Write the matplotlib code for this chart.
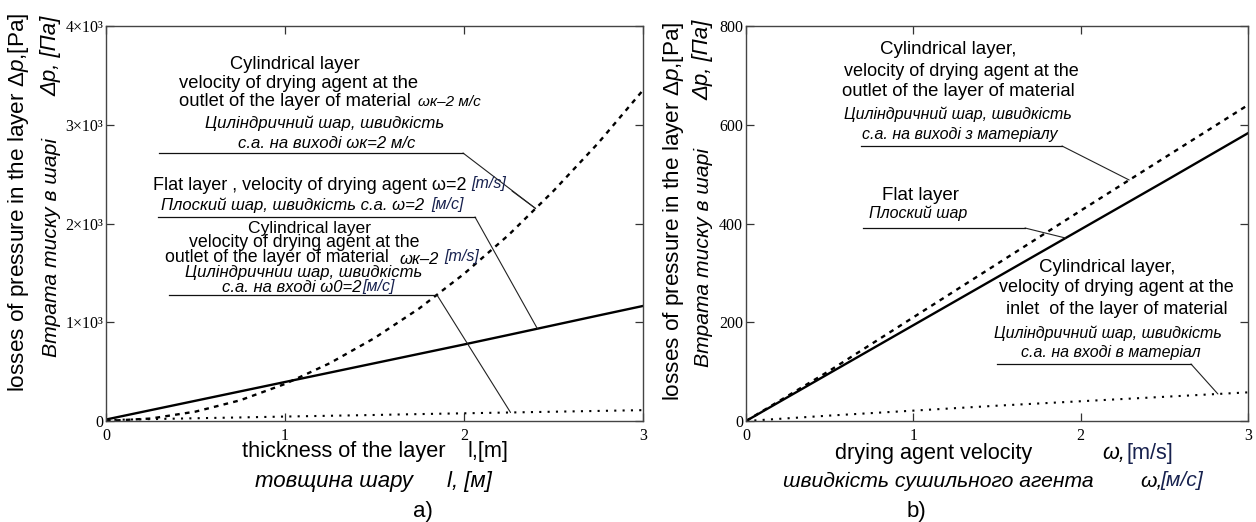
import numpy as np
import matplotlib
matplotlib.use("Agg")
import matplotlib.pyplot as plt
from matplotlib.lines import Line2D

plt.rcParams['mathtext.fontset'] = 'custom'
plt.rcParams['mathtext.rm'] = 'Liberation Sans'
plt.rcParams['mathtext.it'] = 'Liberation Sans:italic'

W, H = 1256, 522
SANS = ['Liberation Sans', 'DejaVu Sans']
SERIF = ['Liberation Serif', 'DejaVu Serif']
NAVY = '#18224f'

# ---------------- data: panel a) ----------------
thickness = [0, 0.25, 0.5, 0.75, 1.0, 1.25, 1.5, 1.75, 2.0, 2.25, 2.5, 2.75, 3.0]
dp_cyl_outlet_a = [0, 25, 95, 210, 375, 585, 840, 1140, 1490, 1885, 2330, 2815, 3350]
dp_flat_a = [15, 110, 205, 300, 395, 490, 585, 680, 775, 872, 970, 1068, 1165]
dp_cyl_inlet_a = [10, 19, 28, 36, 45, 53, 61, 70, 78, 86, 94, 102, 110]
a_xticks = [0, 1, 2, 3]
a_yticks = [0, 1000, 2000, 3000, 4000]
a_yticklabels = ['0', '1×10³', '2×10³', '3×10³', '4×10³']

# ---------------- data: panel b) ----------------
velocity = [0, 0.5, 1.0, 1.5, 2.0, 2.5, 3.0]
dp_cyl_outlet_b = [0, 102, 210, 318, 426, 533, 640]
dp_flat_b = [0, 97, 194, 291, 388, 485, 583]
dp_cyl_inlet_b = [0, 11, 21, 31, 40, 49, 58]
b_xticks = [0, 1, 2, 3]
b_yticks = [0, 200, 400, 600, 800]

fig = plt.figure(figsize=(W / 100, H / 100), dpi=100)
fig.patch.set_facecolor('white')


def px_ax(x0, y0, x1, y1):
    return fig.add_axes([x0 / W, 1 - y1 / H, (x1 - x0) / W, (y1 - y0) / H])


def T(x, y, s, size, ha='center', style='normal', color='black', family=SANS, rot=0, weight='normal'):
    fig.text(x / W, 1 - y / H, s, ha=ha, va='center', fontsize=size, fontstyle=style,
             color=color, family=family, rotation=rot, weight=weight)


def uline(x1, x2, y):
    fig.add_artist(Line2D([x1 / W, x2 / W], [1 - y / H, 1 - y / H], transform=fig.transFigure,
                          lw=0.9, color='#111111'))


def leader(ax, x0, y0, xd, X, Y):
    ax.annotate('', xy=(xd, float(np.interp(xd, X, Y))), xycoords='data',
                xytext=(x0 / W, 1 - y0 / H), textcoords='figure fraction',
                arrowprops=dict(arrowstyle='-', lw=0.8, color='#222222', shrinkA=0, shrinkB=0),
                annotation_clip=False)


def style_axes(ax, xt, yt, ytl, ylim):
    ax.set_xlim(0, 3)
    ax.set_ylim(*ylim)
    ax.set_xticks(xt)
    ax.set_yticks(yt)
    ax.set_xticklabels([str(v) for v in xt], family=SERIF, fontsize=11.5)
    ax.set_yticklabels(ytl, family=SERIF, fontsize=11.5)
    ax.tick_params(direction='in', length=6, width=0.9, top=True, right=True,
                   color='#333333')
    ax.tick_params(axis='x', pad=5)
    ax.tick_params(axis='y', pad=2)
    for s in ax.spines.values():
        s.set_color('#444444')
        s.set_linewidth(1.0)


# ================= panel a =================
axA = px_ax(106, 26, 643, 421)
axA.plot(thickness, dp_cyl_outlet_a, color='black', lw=1.7, linestyle=(0, (2, 2.2)))
axA.plot(thickness, dp_flat_a, color='black', lw=1.7, linestyle='-')
axA.plot(thickness, dp_cyl_inlet_a, color='black', lw=1.5, linestyle=(0, (1, 3)))
style_axes(axA, a_xticks, a_yticks, a_yticklabels, (0, 4000))

# block 1
T(295, 65, 'Cylindrical layer', 13.2)
T(179, 83, 'velocity of drying agent at the', 13.2, ha='left')
T(179, 101, 'outlet of the layer of material', 13.2, ha='left')
T(418, 102, 'ωк–2 м/с', 11, ha='left', style='italic')
T(325, 123, 'Цилiндричний шар, швидкість', 12.1, style='italic')
T(327, 143, 'с.а. на виході ωк=2 м/с', 12.1, style='italic')
uline(159, 463, 153)
leader(axA, 463, 153, 2.40, thickness, dp_cyl_outlet_a)

# block 2
T(153, 185, 'Flat layer , velocity of drying agent ω=2', 13, ha='left')
T(471, 183, '[m/s]', 11.5, ha='left', style='italic', color=NAVY)
leader(axA, 512, 191, 2.40, thickness, dp_cyl_outlet_a)
T(161, 205, 'Плоский шар, швидкість с.а. ω=2', 12, ha='left', style='italic')
T(431, 204, '[м/с]', 11.5, ha='left', style='italic', color=NAVY)
uline(158, 475, 217)
leader(axA, 475, 217, 2.41, thickness, dp_flat_a)

# block 3
T(310, 228, 'Cylindrical layer', 12.6)
T(189, 243, 'velocity of drying agent at the', 12.8, ha='left')
T(165, 258, 'outlet of the layer of material', 12.8, ha='left')
T(399, 259, 'ωк–2', 12, ha='left', style='italic')
T(444, 257, '[m/s]', 11.5, ha='left', style='italic', color=NAVY)
T(304, 272, 'Цилiндричнии шар, швидкість', 12, style='italic')
T(222, 287, 'с.а. на вході ω0=2', 12, ha='left', style='italic')
T(362, 286, '[м/с]', 11.5, ha='left', style='italic', color=NAVY)
uline(169, 437, 295)
leader(axA, 437, 295, 2.26, thickness, dp_cyl_inlet_a)

# axis labels a
T(19, 202, r'losses of pressure in the layer $\mathit{Δp}$,[Pa]', 16.2, rot=90)
T(51, 56, 'Δp, [Па]', 16, style='italic', rot=90)
T(51, 247, 'Втрата тиску в шарі', 15.2, style='italic', rot=90)
T(242, 452, 'thickness of the layer', 15.7, ha='left')
T(468, 452, 'l,[m]', 15.7, ha='left')
T(255, 482, 'товщина шару', 16, ha='left', style='italic')
T(447, 482, 'l, [м]', 16, ha='left', style='italic')
T(423, 511, 'a)', 16)

# ================= panel b =================
axB = px_ax(746, 26, 1248, 421)
axB.plot(velocity, dp_cyl_outlet_b, color='black', lw=1.7, linestyle=(0, (2, 2.2)))
axB.plot(velocity, dp_flat_b, color='black', lw=1.7, linestyle='-')
axB.plot(velocity, dp_cyl_inlet_b, color='black', lw=1.5, linestyle=(0, (1, 3)))
style_axes(axB, b_xticks, b_yticks, [str(v) for v in b_yticks], (0, 800))

T(948, 50, 'Cylindrical layer,', 13.5)
T(961, 71, 'velocity of drying agent at the', 13)
T(958, 92, 'outlet of the layer of material', 13.3)
T(958, 114, 'Цилiндричний шар, швидкість', 11.5, style='italic')
T(960, 135, 'с.а. на виході з матеріалу', 11.5, style='italic')
uline(861, 1062, 146)
leader(axB, 1062, 146, 2.29, velocity, dp_cyl_outlet_b)

T(921, 195, 'Flat layer', 13.5)
T(918, 213, 'Плоский шар', 11.5, style='italic')
uline(863, 1025, 228)
leader(axB, 1025, 228, 1.91, velocity, dp_flat_b)

T(1107, 268, 'Cylindrical layer,', 13.5)
T(1116, 287, 'velocity of drying agent at the', 13)
T(1117, 309, 'inlet  of the layer of material', 13)
T(1108, 333, 'Цилiндричний шар, швидкість', 11.5, style='italic')
T(1111, 352, 'с.а. на вході в матеріал', 11.5, style='italic')
uline(997, 1191, 364)
leader(axB, 1191, 364, 2.82, velocity, dp_cyl_inlet_b)

T(673, 211, r'losses of pressure in the layer $\mathit{Δp}$,[Pa]', 16.2, rot=90)
T(703, 60, 'Δp, [Па]', 16, style='italic', rot=90)
T(703, 257, 'Втрата тиску в шарі', 15.2, style='italic', rot=90)
T(835, 453, 'drying agent velocity', 15.6, ha='left')
T(1102, 453, 'ω,', 15.6, ha='left', style='italic')
T(1127, 453, '[m/s]', 15.6, ha='left', color=NAVY)
T(783, 481, 'швидкість сушильного агента', 15.2, ha='left', style='italic')
T(1140, 481, 'ω,', 15.2, ha='left', style='italic')
T(1160, 481, '[м/с]', 15.2, ha='left', style='italic', color=NAVY)
T(916, 511, 'b)', 16)

fig.savefig('out.png', dpi=100, facecolor='white')
